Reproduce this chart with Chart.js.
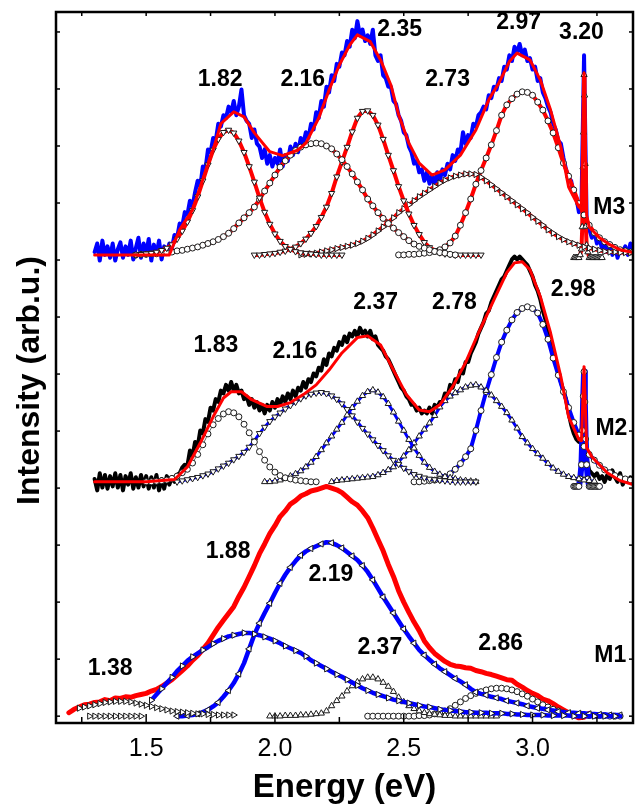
<!DOCTYPE html>
<html>
<head>
<meta charset="utf-8">
<title>PL spectra M1-M3</title>
<script src="https://cdn.jsdelivr.net/npm/chart.js@4.4.1/dist/chart.umd.min.js"></script>
<style>
    html, body { margin: 0; padding: 0; background: #fff; }
    canvas { display: block; }
</style>
</head>
<body>
<canvas id="plChart" width="638" height="808"></canvas>
<script>
// ── Energy grids (eV) ───────────────────────────────────────
const energyFine = [
    1.30, 1.31, 1.32, 1.33, 1.34, 1.35, 1.36, 1.37, 1.38, 1.39,
    1.40, 1.41, 1.42, 1.43, 1.44, 1.45, 1.46, 1.47, 1.48, 1.49,
    1.50, 1.51, 1.52, 1.53, 1.54, 1.55, 1.56, 1.57, 1.58, 1.59,
    1.60, 1.61, 1.62, 1.63, 1.64, 1.65, 1.66, 1.67, 1.68, 1.69,
    1.70, 1.71, 1.72, 1.73, 1.74, 1.75, 1.76, 1.77, 1.78, 1.79,
    1.80, 1.81, 1.82, 1.83, 1.84, 1.85, 1.86, 1.87, 1.88, 1.89,
    1.90, 1.91, 1.92, 1.93, 1.94, 1.95, 1.96, 1.97, 1.98, 1.99,
    2.00, 2.01, 2.02, 2.03, 2.04, 2.05, 2.06, 2.07, 2.08, 2.09,
    2.10, 2.11, 2.12, 2.13, 2.14, 2.15, 2.16, 2.17, 2.18, 2.19,
    2.20, 2.21, 2.22, 2.23, 2.24, 2.25, 2.26, 2.27, 2.28, 2.29,
    2.30, 2.31, 2.32, 2.33, 2.34, 2.35, 2.36, 2.37, 2.38, 2.39,
    2.40, 2.41, 2.42, 2.43, 2.44, 2.45, 2.46, 2.47, 2.48, 2.49,
    2.50, 2.51, 2.52, 2.53, 2.54, 2.55, 2.56, 2.57, 2.58, 2.59,
    2.60, 2.61, 2.62, 2.63, 2.64, 2.65, 2.66, 2.67, 2.68, 2.69,
    2.70, 2.71, 2.72, 2.73, 2.74, 2.75, 2.76, 2.77, 2.78, 2.79,
    2.80, 2.81, 2.82, 2.83, 2.84, 2.85, 2.86, 2.87, 2.88, 2.89,
    2.90, 2.91, 2.92, 2.93, 2.94, 2.95, 2.96, 2.97, 2.98, 2.99,
    3.00, 3.01, 3.02, 3.03, 3.04, 3.05, 3.06, 3.07, 3.08, 3.09,
    3.10, 3.11, 3.12, 3.13, 3.14, 3.15, 3.16, 3.17, 3.18, 3.19,
    3.20, 3.21, 3.22, 3.23, 3.24, 3.25, 3.26, 3.27, 3.28, 3.29,
    3.30, 3.31, 3.32, 3.33, 3.34, 3.35, 3.36, 3.37, 3.38, 3.39
];

const energyStep = [
    1.20, 1.22, 1.24, 1.26, 1.28, 1.30, 1.32, 1.34, 1.36, 1.38,
    1.40, 1.42, 1.44, 1.46, 1.48, 1.50, 1.52, 1.54, 1.56, 1.58,
    1.60, 1.62, 1.64, 1.66, 1.68, 1.70, 1.72, 1.74, 1.76, 1.78,
    1.80, 1.82, 1.84, 1.86, 1.88, 1.90, 1.92, 1.94, 1.96, 1.98,
    2.00, 2.02, 2.04, 2.06, 2.08, 2.10, 2.12, 2.14, 2.16, 2.18,
    2.20, 2.22, 2.24, 2.26, 2.28, 2.30, 2.32, 2.34, 2.36, 2.38,
    2.40, 2.42, 2.44, 2.46, 2.48, 2.50, 2.52, 2.54, 2.56, 2.58,
    2.60, 2.62, 2.64, 2.66, 2.68, 2.70, 2.72, 2.74, 2.76, 2.78,
    2.80, 2.82, 2.84, 2.86, 2.88, 2.90, 2.92, 2.94, 2.96, 2.98,
    3.00, 3.02, 3.04, 3.06, 3.08, 3.10, 3.12, 3.14, 3.16, 3.18,
    3.20, 3.22, 3.24, 3.26, 3.28, 3.30, 3.32, 3.34, 3.36, 3.38
];

// baseline of each stacked spectrum on the intensity axis
const offsetM3 = 8.09;
const offsetM2 = 4.11;
const offsetM1 = 0;

// ── M3 ──────────────────────────────────────────────────────
// measured spectrum, energyFine from 1.30
const m3Measured = [
    0.05, 0.20, -0.10, 0.25, 0.00, 0.15, -0.05, 0.20, -0.10, 0.10,
    0.22, -0.05, 0.15, 0.00, 0.25, -0.08, 0.12, 0.30, -0.05, 0.20,
    0.02, 0.28, -0.10, 0.18, 0.00, 0.25, -0.08, 0.15, 0.02, 0.20,
    0.12, 0.35, 0.30, 0.55, 0.50, 0.75, 0.70, 0.95, 0.85, 1.10,
    1.30, 1.20, 1.55, 1.50, 1.85, 1.80, 2.05, 2.00, 2.30, 2.25,
    2.45, 2.40, 2.60, 2.50, 2.70, 2.45, 2.60, 2.90, 2.45, 2.35,
    2.30, 2.05, 2.20, 1.95, 1.90, 1.70, 1.85, 1.60, 1.75, 1.55,
    1.70, 1.60, 1.85, 1.55, 1.75, 1.65, 1.90, 1.75, 1.95, 1.80,
    2.05, 1.95, 2.15, 2.05, 2.30, 2.20, 2.50, 2.40, 2.70, 2.60,
    2.95, 2.85, 3.15, 3.05, 3.35, 3.30, 3.55, 3.50, 3.75, 3.65,
    3.95, 3.80, 4.10, 3.85, 3.95, 3.75, 3.85, 3.70, 3.95, 3.50,
    3.40, 3.50, 3.15, 3.10, 2.95, 2.95, 2.70, 2.65, 2.45, 2.35,
    2.15, 2.10, 1.90, 1.80, 1.60, 1.65, 1.45, 1.50, 1.30, 1.45,
    1.25, 1.40, 1.20, 1.45, 1.30, 1.50, 1.40, 1.60, 1.50, 1.75,
    1.65, 1.85, 1.80, 2.15, 1.95, 2.10, 2.05, 2.30, 2.25, 2.45,
    2.50, 2.60, 2.55, 2.80, 2.75, 2.95, 2.90, 3.10, 3.05, 3.30,
    3.25, 3.50, 3.40, 3.65, 3.55, 3.70, 3.50, 3.60, 3.40, 3.45,
    3.25, 3.30, 3.05, 3.10, 2.85, 2.75, 2.60, 2.50, 2.30, 2.20,
    2.00, 1.95, 1.70, 1.50, 1.35, 1.30, 1.05, 1.00, 0.75, 0.90,
    3.50, 0.60, 0.45, 0.30, 0.40, 0.20, 0.30, 0.10, 0.25, 0.05,
    0.20, 0.00, 0.15, -0.05, 0.10, 0.05, 0.15, 0.00, 0.20, 0.10
];

const m3FitEnergy = [1.30, 1.59, 1.63, 1.68, 1.72, 1.76, 1.79, 1.84, 1.88, 1.92, 1.98, 2.03, 2.09, 2.12,
    2.17, 2.21, 2.25, 2.29, 2.32, 2.37, 2.41, 2.45, 2.48, 2.52, 2.56, 2.61, 2.66, 2.72, 2.78, 2.83,
    2.87, 2.91, 2.94, 2.99, 3.03, 3.07, 3.11, 3.14, 3.18, 3.19, 3.20, 3.21, 3.22, 3.26, 3.30, 3.34, 3.39];
const m3Fit = [0, 0, 0.44, 0.79, 1.32, 1.84, 2.30, 2.51, 2.42, 2.14, 1.81, 1.74, 1.84, 1.96,
    2.40, 2.89, 3.33, 3.68, 3.86, 3.74, 3.42, 2.98, 2.46, 1.96, 1.61, 1.40, 1.49, 1.75, 2.19, 2.72,
    3.02, 3.39, 3.54, 3.42, 3.07, 2.54, 1.89, 1.19, 0.84, 0.90, 3.19, 0.70, 0.49, 0.30, 0.18, 0.09, 0.04];

// fitted bands, energyStep
const m3Peak182 = [0.00, 0.01, 0.02, 0.03, 0.05, 0.08, 0.12, 0.18, 0.28, 0.42, 0.58, 0.78, 1.02, 1.30,
    1.58, 1.84, 2.03, 2.15, 2.19, 2.14, 2.00, 1.80, 1.55, 1.28, 1.00, 0.75, 0.54, 0.37, 0.24, 0.15,
    0.10, 0.06, 0.04, 0.03, 0.02, 0.01, 0.00, 0.00, 0.00, 0.00, 0.00];                       // from 1.46
const m3Peak216 = [0.00, 0.01, 0.01, 0.02, 0.02, 0.03, 0.04, 0.05, 0.07, 0.08, 0.10, 0.12, 0.14, 0.17,
    0.20, 0.23, 0.27, 0.32, 0.38, 0.46, 0.56, 0.65, 0.74, 0.84, 0.97, 1.12, 1.26, 1.40, 1.54, 1.65,
    1.75, 1.83, 1.89, 1.93, 1.95, 1.96, 1.95, 1.91, 1.86, 1.77, 1.67, 1.55, 1.42, 1.28, 1.14, 0.98,
    0.86, 0.74, 0.64, 0.55, 0.47, 0.39, 0.32, 0.25, 0.19, 0.15, 0.12, 0.09, 0.06, 0.04, 0.03, 0.01, 0.00]; // from 1.46
const m3Peak235 = [0.00, 0.00, 0.01, 0.02, 0.03, 0.05, 0.07, 0.10, 0.14, 0.20, 0.28, 0.38, 0.50, 0.66,
    0.84, 1.08, 1.37, 1.63, 1.89, 2.16, 2.40, 2.52, 2.53, 2.45, 2.28, 2.03, 1.75, 1.48, 1.20, 0.95,
    0.72, 0.52, 0.36, 0.22, 0.13, 0.08, 0.04, 0.02, 0.01, 0.00, 0.00, 0.00, 0.00, 0.00, 0.00]; // from 1.92
const m3Peak273 = [0.00, 0.01, 0.02, 0.03, 0.05, 0.07, 0.09, 0.11, 0.13, 0.15, 0.17, 0.20, 0.24, 0.29,
    0.35, 0.42, 0.49, 0.57, 0.65, 0.74, 0.81, 0.88, 0.95, 1.02, 1.08, 1.14, 1.20, 1.26, 1.31, 1.35,
    1.38, 1.40, 1.42, 1.42, 1.41, 1.36, 1.30, 1.23, 1.16, 1.09, 1.02, 0.95, 0.88, 0.81, 0.74, 0.66,
    0.59, 0.52, 0.44, 0.38, 0.32, 0.27, 0.23, 0.20, 0.17, 0.14, 0.12, 0.10, 0.08, 0.06, 0.05, 0.05,
    0.04, 0.04, 0.04];                                                                        // from 2.10
const m3Peak297 = [0.00, 0.00, 0.01, 0.01, 0.02, 0.03, 0.04, 0.06, 0.09, 0.14, 0.21, 0.33, 0.52, 0.74,
    0.98, 1.24, 1.48, 1.70, 1.93, 2.18, 2.45, 2.63, 2.74, 2.82, 2.86, 2.85, 2.80, 2.68, 2.54, 2.35,
    2.14, 1.88, 1.61, 1.38, 1.14, 0.90, 0.70, 0.52, 0.39, 0.30, 0.23, 0.18, 0.13, 0.09, 0.07, 0.05]; // from 2.48
const m3LineEnergy = [3.160, 3.165, 3.170, 3.175, 3.180, 3.185, 3.190, 3.193, 3.196, 3.198, 3.200, 3.202,
    3.204, 3.207, 3.210, 3.215, 3.220, 3.225, 3.230, 3.235, 3.240, 3.245, 3.250, 3.255, 3.260, 3.265, 3.270];
const m3Line320 = [-0.05, -0.05, -0.05, -0.05, -0.05, 0.00, 0.10, 0.49, 1.54, 2.15, 3.16, 2.80,
    1.60, 0.50, 0.17, 0.05, -0.05, -0.05, -0.05, -0.05, -0.05, -0.05, -0.05, -0.05, -0.05, -0.05, -0.05];

// ── M2 ──────────────────────────────────────────────────────
// measured spectrum, energyFine from 1.30
const m2Measured = [
    0.05, -0.15, 0.15, -0.10, 0.12, -0.12, 0.10, -0.08, 0.15, -0.10,
    0.12, -0.15, 0.10, -0.05, 0.15, -0.12, 0.08, -0.10, 0.12, -0.08,
    0.10, -0.12, 0.08, -0.10, 0.12, -0.15, 0.05, -0.12, 0.10, -0.05,
    0.08, 0.00, 0.12, 0.15, 0.25, 0.30, 0.28, 0.55, 0.45, 0.70,
    0.62, 0.90, 0.85, 1.10, 1.05, 1.30, 1.25, 1.45, 1.40, 1.60,
    1.55, 1.70, 1.60, 1.75, 1.60, 1.70, 1.55, 1.60, 1.45, 1.50,
    1.35, 1.45, 1.30, 1.40, 1.25, 1.35, 1.20, 1.35, 1.25, 1.40,
    1.30, 1.45, 1.35, 1.50, 1.40, 1.55, 1.45, 1.60, 1.50, 1.65,
    1.60, 1.75, 1.65, 1.80, 1.75, 1.90, 1.85, 2.00, 1.95, 2.15,
    2.05, 2.25, 2.20, 2.35, 2.30, 2.45, 2.40, 2.55, 2.45, 2.60,
    2.55, 2.65, 2.55, 2.70, 2.60, 2.65, 2.55, 2.65, 2.50, 2.55,
    2.40, 2.35, 2.30, 2.20, 2.15, 2.05, 1.95, 1.85, 1.75, 1.65,
    1.60, 1.50, 1.45, 1.35, 1.35, 1.25, 1.30, 1.20, 1.25, 1.20,
    1.30, 1.20, 1.35, 1.30, 1.40, 1.40, 1.55, 1.50, 1.70, 1.65,
    1.80, 1.75, 1.95, 1.90, 2.10, 2.10, 2.25, 2.35, 2.45, 2.60,
    2.70, 2.80, 2.95, 3.00, 3.15, 3.25, 3.35, 3.45, 3.55, 3.60,
    3.70, 3.80, 3.90, 3.95, 3.90, 3.95, 3.90, 3.85, 3.80, 3.70,
    3.60, 3.45, 3.35, 3.20, 3.00, 2.85, 2.65, 2.45, 2.25, 2.10,
    1.90, 1.75, 1.60, 1.45, 1.20, 1.00, 0.85, 0.75, 0.70, 0.80,
    1.96, 0.40, 0.20, 0.15, 0.10, 0.15, 0.05, 0.10, 0.00, 0.12,
    0.05, 0.20, 0.08, 0.00, 0.15, -0.05, 0.05, 0.00, 0.08, 0.02
];

const m2FitEnergy = [1.30, 1.50, 1.61, 1.66, 1.71, 1.76, 1.80, 1.83, 1.87, 1.91, 1.97, 2.01, 2.06, 2.11,
    2.16, 2.21, 2.26, 2.32, 2.36, 2.41, 2.46, 2.51, 2.56, 2.60, 2.64, 2.69, 2.74, 2.79, 2.85, 2.90,
    2.93, 2.96, 2.99, 3.03, 3.07, 3.11, 3.14, 3.18, 3.19, 3.20, 3.21, 3.23, 3.29, 3.34, 3.39];
const m2Fit = [0, 0, 0.04, 0.26, 0.68, 1.14, 1.47, 1.58, 1.58, 1.44, 1.32, 1.32, 1.39, 1.53,
    1.70, 1.96, 2.26, 2.53, 2.56, 2.40, 1.96, 1.53, 1.26, 1.23, 1.35, 1.67, 2.09, 2.61, 3.19, 3.67,
    3.84, 3.86, 3.72, 3.25, 2.61, 1.84, 1.14, 0.74, 0.72, 2.02, 0.60, 0.44, 0.16, 0.02, -0.05];

const m2Peak183 = [0.00, 0.00, 0.01, 0.02, 0.03, 0.06, 0.10, 0.16, 0.22, 0.33, 0.48, 0.65, 0.84, 1.00,
    1.11, 1.19, 1.23, 1.21, 1.14, 1.01, 0.86, 0.70, 0.53, 0.38, 0.26, 0.17, 0.11, 0.07, 0.05, 0.03,
    0.02, 0.01, 0.00, 0.00];                                                                  // from 1.50
const m2Peak216 = [0.00, 0.02, 0.04, 0.06, 0.08, 0.11, 0.14, 0.18, 0.23, 0.28, 0.33, 0.39, 0.45, 0.52,
    0.61, 0.72, 0.85, 0.96, 1.06, 1.14, 1.21, 1.28, 1.34, 1.40, 1.46, 1.51, 1.54, 1.56, 1.57, 1.55,
    1.51, 1.45, 1.37, 1.27, 1.16, 1.05, 0.94, 0.84, 0.74, 0.64, 0.55, 0.46, 0.38, 0.31, 0.24, 0.18,
    0.13, 0.10, 0.07, 0.05, 0.04, 0.03, 0.02, 0.01, 0.00, 0.00, 0.00, 0.00, 0.00];            // from 1.62
const m2Peak237 = [0.00, 0.00, 0.01, 0.03, 0.06, 0.10, 0.14, 0.19, 0.26, 0.34, 0.44, 0.56, 0.68, 0.80,
    0.92, 1.04, 1.17, 1.30, 1.41, 1.51, 1.58, 1.61, 1.57, 1.49, 1.37, 1.22, 1.06, 0.90, 0.74, 0.59,
    0.46, 0.34, 0.25, 0.18, 0.13, 0.09, 0.07, 0.05, 0.03, 0.02, 0.01, 0.00];                  // from 1.96
const m2Peak278 = [0.00, 0.02, 0.03, 0.04, 0.05, 0.06, 0.07, 0.08, 0.09, 0.12, 0.16, 0.21, 0.26, 0.35,
    0.45, 0.56, 0.68, 0.80, 0.92, 1.03, 1.16, 1.31, 1.42, 1.50, 1.56, 1.61, 1.66, 1.69, 1.70, 1.66,
    1.60, 1.52, 1.42, 1.32, 1.21, 1.08, 0.94, 0.79, 0.68, 0.58, 0.49, 0.41, 0.32, 0.24, 0.18, 0.13,
    0.09, 0.07, 0.05, 0.03, 0.02, 0.01];                                                      // from 2.22
const m2Peak298 = [0.00, 0.00, 0.01, 0.02, 0.03, 0.04, 0.08, 0.14, 0.22, 0.32, 0.44, 0.58, 0.90, 1.25,
    1.58, 1.88, 2.18, 2.45, 2.66, 2.84, 2.97, 3.04, 3.07, 3.04, 2.96, 2.76, 2.50, 2.17, 1.87, 1.58,
    1.30, 1.04, 0.82, 0.62, 0.48, 0.38, 0.29, 0.21, 0.16, 0.11, 0.07, 0.05, 0.03];            // from 2.54
const m2LineEnergy = [3.160, 3.165, 3.170, 3.175, 3.180, 3.185, 3.190, 3.194, 3.197, 3.200, 3.203, 3.206,
    3.210, 3.215, 3.220, 3.225, 3.230, 3.235, 3.240, 3.245, 3.250, 3.255, 3.260];
const m2Line320 = [-0.08, -0.08, -0.08, -0.08, -0.08, 0.05, 0.30, 0.90, 1.50, 1.93, 1.40, 0.75,
    0.30, 0.05, -0.08, -0.08, -0.08, -0.08, -0.08, -0.08, -0.08, -0.08, -0.08];

// ── M1 ──────────────────────────────────────────────────────
// measured spectrum, energyStep from 1.20
const m1Measured = [
    0.06, 0.12, 0.16, 0.20, 0.21, 0.24, 0.25, 0.29, 0.27, 0.32,
    0.31, 0.34, 0.33, 0.36, 0.38, 0.40, 0.44, 0.47, 0.52, 0.58,
    0.64, 0.72, 0.80, 0.88, 0.98, 1.06, 1.17, 1.28, 1.42, 1.56,
    1.68, 1.80, 1.92, 2.10, 2.26, 2.45, 2.64, 2.85, 3.02, 3.20,
    3.34, 3.50, 3.60, 3.72, 3.78, 3.86, 3.90, 3.95, 3.97, 4.00,
    4.03, 4.00, 3.97, 3.92, 3.84, 3.76, 3.70, 3.60, 3.48, 3.30,
    3.10, 2.90, 2.66, 2.45, 2.20, 2.00, 1.82, 1.65, 1.50, 1.32,
    1.20, 1.10, 1.03, 0.96, 0.91, 0.88, 0.87, 0.85, 0.84, 0.80,
    0.78, 0.75, 0.73, 0.70, 0.67, 0.64, 0.63, 0.56, 0.51, 0.45,
    0.40, 0.36, 0.30, 0.27, 0.22, 0.16, 0.11, 0.06, 0.01, -0.03,
    -0.02, 0.05
];

const m1Peak138 = [0.14, 0.16, 0.18, 0.20, 0.22, 0.24, 0.25, 0.26, 0.26, 0.26, 0.25, 0.23, 0.21, 0.19,
    0.17, 0.15, 0.13, 0.11, 0.09, 0.08, 0.07, 0.06, 0.05, 0.04, 0.04, 0.03, 0.03, 0.02, 0.02, 0.02,
    0.02];                                                                                    // from 1.24
const m1Tail188 = [0, 0, 0, 0, 0, 0, 0, 0, 0, 0, 0];                                          // from 1.28
const m1Peak188 = [0.28, 0.38, 0.48, 0.58, 0.68, 0.79, 0.88, 0.97, 1.04, 1.10, 1.16, 1.21, 1.27, 1.32,
    1.36, 1.40, 1.42, 1.44, 1.46, 1.46, 1.44, 1.42, 1.39, 1.36, 1.32, 1.28, 1.23, 1.19, 1.15, 1.11,
    1.05, 0.98, 0.93, 0.88, 0.83, 0.78, 0.73, 0.69, 0.64, 0.59, 0.54, 0.49, 0.45, 0.41, 0.38, 0.35,
    0.32, 0.29, 0.27, 0.25, 0.23, 0.21, 0.19, 0.17, 0.16, 0.14, 0.12, 0.11, 0.10, 0.09, 0.08, 0.07,
    0.07, 0.06, 0.06, 0.06, 0.05, 0.05, 0.05, 0.04, 0.04, 0.03, 0.03, 0.02, 0.02, 0.02, 0.02, 0.01,
    0.01, 0.01, 0.01, 0.01, 0.00, 0.00, 0.00, 0.00, 0.00, 0.00, 0.00, 0.00, 0.00, 0.00];        // from 1.52
const m1Peak219 = [0.00, 0.00, 0.01, 0.02, 0.04, 0.07, 0.11, 0.17, 0.24, 0.34, 0.45, 0.58, 0.74, 0.93,
    1.18, 1.43, 1.63, 1.81, 1.98, 2.16, 2.33, 2.48, 2.61, 2.72, 2.82, 2.89, 2.94, 2.98, 3.02, 3.05,
    3.04, 3.00, 2.95, 2.88, 2.81, 2.74, 2.64, 2.53, 2.39, 2.24, 2.09, 1.95, 1.81, 1.67, 1.53, 1.40,
    1.28, 1.16, 1.07, 0.99, 0.91, 0.84, 0.78, 0.72, 0.66, 0.61, 0.55, 0.48, 0.42, 0.39, 0.37, 0.34,
    0.32, 0.30, 0.27, 0.25, 0.23, 0.21, 0.18, 0.16, 0.14, 0.13, 0.11, 0.10, 0.08, 0.07, 0.06, 0.06,
    0.05, 0.05, 0.04, 0.04, 0.03, 0.03, 0.02, 0.02, 0.02];                                    // from 1.62
const m1Peak237 = [0.00, 0.00, 0.00, 0.01, 0.01, 0.01, 0.02, 0.02, 0.03, 0.04, 0.05, 0.09, 0.18, 0.27,
    0.35, 0.44, 0.53, 0.60, 0.65, 0.68, 0.68, 0.65, 0.59, 0.52, 0.43, 0.33, 0.25, 0.18, 0.13, 0.09,
    0.06, 0.04, 0.03, 0.02, 0.01, 0.01, 0.00, 0.00, 0.00, 0.00, 0.00, 0.00, 0.00, 0.00, 0.00]; // from 1.98
const m1Peak286 = [0.00, 0.00, 0.00, 0.00, 0.00, 0.00, 0.00, 0.00, 0.00, 0.00, 0.01, 0.01, 0.02, 0.04,
    0.06, 0.09, 0.13, 0.19, 0.25, 0.31, 0.36, 0.40, 0.43, 0.46, 0.48, 0.49, 0.49, 0.48, 0.46, 0.43,
    0.39, 0.35, 0.30, 0.25, 0.20, 0.16, 0.12, 0.09, 0.06, 0.04, 0.03, 0.02, 0.02, 0.01, 0.01, 0.01,
    0.01, 0.00, 0.00, 0.00];                                                                  // from 2.36

// ── Peak annotations (energy, intensity) ────────────────────
const peakLabels = [
    { text: '1.82', x: 1.787, y: 11.16 }, { text: '2.16', x: 2.108, y: 11.16 },
    { text: '2.35', x: 2.484, y: 12.04 }, { text: '2.73', x: 2.670, y: 11.16 },
    { text: '2.97', x: 2.946, y: 12.16 }, { text: '3.20', x: 3.190, y: 11.99 },
    { text: 'M3', x: 3.298, y: 8.92 },
    { text: '1.83', x: 1.771, y: 6.49 }, { text: '2.16', x: 2.077, y: 6.39 },
    { text: '2.37', x: 2.391, y: 7.25 }, { text: '2.78', x: 2.697, y: 7.25 },
    { text: '2.98', x: 3.158, y: 7.48 }, { text: 'M2', x: 3.306, y: 5.04 },
    { text: '1.38', x: 1.360, y: 0.84 }, { text: '1.88', x: 1.818, y: 2.88 },
    { text: '2.19', x: 2.217, y: 2.49 }, { text: '2.37', x: 2.407, y: 1.20 },
    { text: '2.86', x: 2.876, y: 1.28 }, { text: 'M1', x: 3.302, y: 1.06 }
];

const FONT = "'Liberation Sans', Arial, Helvetica, sans-serif";

// ── helpers ─────────────────────────────────────────────────
const onGrid = (grid, from, values, offset) => {
    const start = grid.findIndex(e => Math.abs(e - from) < 1e-6);
    return values.map((v, i) => ({ x: grid[start + i], y: v + offset }));
};
const paired = (xs, ys, offset) => xs.map((x, i) => ({ x: x, y: ys[i] + offset }));

const measured = (data, color, width) => ({
    data: data, borderColor: color, borderWidth: width,
    pointRadius: 0, order: 3
});
const fitLine = (data, color, width) => ({
    data: data, borderColor: color, borderWidth: width,
    pointRadius: 0, order: 1
});
// every: put a marker on every n-th point only
const band = (data, color, width, marker, rotation, every) => {
    const r = marker === 'circle' ? 3 : 3.6;
    const n = every || 1;
    return {
        data: data, borderColor: color, borderWidth: width,
        pointStyle: marker, pointRotation: rotation || 0,
        pointRadius: c => (c.dataIndex % n === 0 ? r : 0),
        pointBackgroundColor: '#ffffff', pointBorderColor: '#1a1a1a', pointBorderWidth: 1,
        order: 2
    };
};

const RED = '#ff0000', BLUE = '#0000ff';

const datasets = [
    // M3
    measured(onGrid(energyFine, 1.30, m3Measured, offsetM3), BLUE, 4),
    fitLine(paired(m3FitEnergy, m3Fit, offsetM3), RED, 3),
    band(onGrid(energyStep, 1.46, m3Peak182, offsetM3), RED, 4, 'triangle', 180),
    band(onGrid(energyStep, 1.46, m3Peak216, offsetM3), RED, 4, 'circle'),
    band(onGrid(energyStep, 1.92, m3Peak235, offsetM3), RED, 4, 'triangle', 180),
    band(onGrid(energyStep, 2.10, m3Peak273, offsetM3), RED, 4, 'triangle', 90),
    band(onGrid(energyStep, 2.48, m3Peak297, offsetM3), RED, 4, 'circle'),
    band(paired(m3LineEnergy, m3Line320, offsetM3), RED, 4, 'triangle'),
    // M2
    measured(onGrid(energyFine, 1.30, m2Measured, offsetM2), '#000000', 4),
    fitLine(paired(m2FitEnergy, m2Fit, offsetM2), RED, 3),
    band(onGrid(energyStep, 1.50, m2Peak183, offsetM2), '#666666', 1, 'circle'),
    band(onGrid(energyStep, 1.62, m2Peak216, offsetM2), BLUE, 3, 'triangle', 180),
    band(onGrid(energyStep, 1.96, m2Peak237, offsetM2), BLUE, 3, 'triangle'),
    band(onGrid(energyStep, 2.22, m2Peak278, offsetM2), BLUE, 3, 'triangle'),
    band(onGrid(energyStep, 2.54, m2Peak298, offsetM2), BLUE, 4, 'circle'),
    band(paired(m2LineEnergy, m2Line320, offsetM2), BLUE, 6, 'circle'),
    // M1
    measured(onGrid(energyStep, 1.20, m1Measured, offsetM1), RED, 5),
    band(onGrid(energyStep, 1.24, m1Peak138, offsetM1), '#333333', 2, 'triangle', 90),
    band(onGrid(energyStep, 1.28, m1Tail188, offsetM1), '#333333', 1, 'triangle', 90),
    band(onGrid(energyStep, 1.52, m1Peak188, offsetM1), BLUE, 4.5, 'triangle', 90, 2),
    band(onGrid(energyStep, 1.62, m1Peak219, offsetM1), BLUE, 4.5, 'triangle', 270, 2),
    band(onGrid(energyStep, 1.98, m1Peak237, offsetM1), '#333333', 1, 'triangle'),
    band(onGrid(energyStep, 2.36, m1Peak286, offsetM1), '#333333', 1, 'circle')
];

// ── frame with inward tick marks on all four sides ──────────
const frameTicks = {
    id: 'frameTicks',
    afterDatasetsDraw(chart) {
        const { ctx, chartArea: a, scales: { x, y } } = chart;
        const seg = (x1, y1, x2, y2) => { ctx.beginPath(); ctx.moveTo(x1, y1); ctx.lineTo(x2, y2); ctx.stroke(); };
        ctx.save();
        ctx.strokeStyle = '#000';
        ctx.lineWidth = 1.5;
        x.ticks.forEach(t => {
            const px = x.getPixelForValue(t.value);
            const major = Math.abs(t.value * 2 - Math.round(t.value * 2)) < 1e-6;
            seg(px, a.bottom, px, a.bottom - (major ? 9 : 6));
            seg(px, a.top, px, a.top + 4);
        });
        y.ticks.forEach(t => {
            const py = y.getPixelForValue(t.value);
            seg(a.left, py, a.left + 4, py);
            seg(a.right, py, a.right - 4, py);
        });
        ctx.lineWidth = 2.5;
        ctx.strokeRect(a.left, a.top, a.right - a.left, a.bottom - a.top);
        ctx.restore();
    }
};

// ── peak position labels and the intensity axis title ───────
const peakText = {
    id: 'peakText',
    afterDatasetsDraw(chart) {
        const { ctx, chartArea: a, scales: { x, y } } = chart;
        ctx.save();
        ctx.fillStyle = '#000';
        ctx.font = 'bold 23px ' + FONT;
        ctx.textAlign = 'center';
        ctx.textBaseline = 'middle';
        peakLabels.forEach(l => ctx.fillText(l.text, x.getPixelForValue(l.x), y.getPixelForValue(l.y)));

        // y title sits a little below the middle of the frame
        ctx.font = 'bold 32px ' + FONT;
        ctx.translate(30, (a.top + a.bottom) / 2 + 13);
        ctx.rotate(-Math.PI / 2);
        ctx.fillText('Intensity (arb.u.)', 0, 0);
        ctx.restore();
    }
};

new Chart(document.getElementById('plChart'), {
    type: 'line',
    data: { datasets: datasets },
    options: {
        responsive: false,
        animation: false,
        layout: { padding: { left: 9.6, right: 4, top: 12, bottom: 0 } },
        elements: { line: { tension: 0, borderJoinStyle: 'round', borderCapStyle: 'round' } },
        plugins: { legend: { display: false }, tooltip: { enabled: false } },
        scales: {
            x: {
                type: 'linear', min: 1.15, max: 3.39,
                grid: { display: false, drawTicks: false }, border: { display: false },
                afterFit: scale => { scale.height = 85; },
                ticks: {
                    stepSize: 0.25, includeBounds: false, autoSkip: false, maxRotation: 0,
                    padding: 10.7, color: '#000', font: { family: FONT, size: 25 },
                    callback: v => (Math.abs(v * 2 - Math.round(v * 2)) < 1e-6 && v >= 1.5 && v <= 3.0) ? v.toFixed(1) : ''
                },
                title: {
                    display: true, text: 'Energy (eV)', color: '#000',
                    font: { family: FONT, size: 33, weight: 'bold' }, padding: { top: 0, bottom: 0 }
                }
            },
            y: {
                type: 'linear', min: -0.12, max: 12.35,
                grid: { display: false, drawTicks: false }, border: { display: false },
                afterFit: scale => { scale.width = 46.4; },
                ticks: { display: false, stepSize: 1, includeBounds: false }
            }
        }
    },
    plugins: [frameTicks, peakText]
});
</script>
</body>
</html>
